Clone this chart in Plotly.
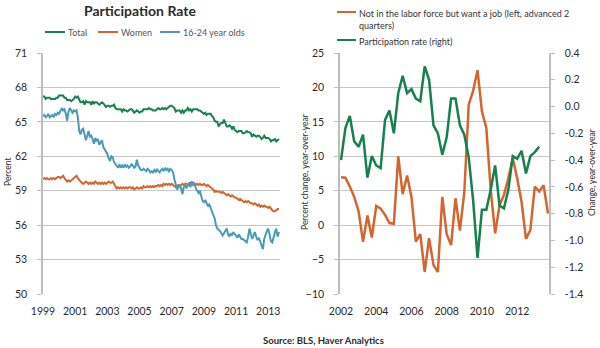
import plotly.graph_objects as go

# ---- Left panel: monthly participation rates (percent), Jan 1999 onward ----
total = [
    67.2, 67.2, 67.0, 67.1, 67.1, 67.1, 67.0, 67.0, 67.0, 67.0, 67.1, 67.1,
    67.3, 67.3, 67.3, 67.3, 67.1, 67.1, 66.9, 66.9, 66.9, 66.8, 66.9, 67.0,
    67.2, 67.1, 67.2, 66.9, 66.7, 66.7, 66.8, 66.5, 66.8, 66.7, 66.7, 66.7,
    66.5, 66.8, 66.6, 66.7, 66.7, 66.6, 66.5, 66.6, 66.7, 66.6, 66.4, 66.3,
    66.4, 66.4, 66.3, 66.4, 66.4, 66.5, 66.2, 66.1, 66.1, 66.1, 66.1, 65.9,
    66.1, 66.0, 66.0, 65.9, 66.0, 66.1, 66.1, 66.0, 65.8, 65.9, 66.0, 65.9,
    65.8, 65.9, 65.9, 66.1, 66.1, 66.1, 66.1, 66.2, 66.1, 66.1, 66.0, 66.0,
    66.0, 66.1, 66.2, 66.1, 66.1, 66.2, 66.1, 66.2, 66.1, 66.2, 66.3, 66.4,
    66.4, 66.3, 66.2, 65.9, 66.0, 66.0, 66.0, 65.8, 66.0, 65.8, 66.0, 66.0,
    66.2, 66.0, 66.1, 65.9, 66.1, 66.1, 66.1, 66.1, 66.0, 66.0, 65.9, 65.8,
    65.7, 65.8, 65.6, 65.7, 65.7, 65.7, 65.5, 65.4, 65.1, 65.0, 65.0, 64.6,
    64.8, 64.9, 64.9, 65.2, 64.9, 64.6, 64.6, 64.7, 64.6, 64.4, 64.6, 64.3,
    64.2, 64.1, 64.2, 64.2, 64.2, 64.0, 64.0, 64.1, 64.2, 64.1, 64.1, 64.0,
    63.7, 63.9, 63.8, 63.7, 63.8, 63.8, 63.7, 63.5, 63.6, 63.8, 63.6, 63.6,
    63.6, 63.5, 63.3, 63.4, 63.4, 63.5, 63.3, 63.4, 63.5,
]

women = [
    60.0, 60.1, 60.0, 60.1, 60.0, 60.0, 60.1, 60.0, 60.1, 60.0, 60.1, 60.2,
    60.2, 60.1, 60.2, 60.3, 60.1, 59.9, 59.8, 59.9, 59.8, 59.9, 60.0, 60.1,
    60.2, 60.3, 60.1, 59.9, 59.8, 59.7, 59.6, 59.7, 59.8, 59.7, 59.6, 59.7,
    59.6, 59.7, 59.6, 59.8, 59.7, 59.6, 59.7, 59.6, 59.7, 59.6, 59.7, 59.6,
    59.7, 59.8, 59.7, 59.7, 59.8, 59.6, 59.5, 59.2, 59.3, 59.2, 59.3, 59.2,
    59.3, 59.2, 59.3, 59.2, 59.3, 59.3, 59.2, 59.3, 59.1, 59.2, 59.3, 59.2,
    59.2, 59.3, 59.2, 59.4, 59.3, 59.3, 59.4, 59.3, 59.4, 59.3, 59.4, 59.3,
    59.4, 59.4, 59.5, 59.4, 59.5, 59.4, 59.6, 59.5, 59.6, 59.5, 59.6, 59.5,
    59.6, 59.5, 59.4, 59.3, 59.4, 59.5, 59.4, 59.5, 59.6, 59.5, 59.6, 59.6,
    59.5, 59.6, 59.7, 59.6, 59.7, 59.6, 59.5, 59.6, 59.5, 59.6, 59.5, 59.5,
    59.6, 59.5, 59.4, 59.5, 59.4, 59.3, 59.2, 59.1, 58.9, 59.0, 58.9, 58.9,
    58.9, 58.8, 58.9, 58.8, 58.7, 58.6, 58.7, 58.6, 58.5, 58.6, 58.5, 58.4,
    58.4, 58.3, 58.2, 58.3, 58.2, 58.1, 58.0, 58.1, 58.0, 58.1, 58.0, 57.9,
    57.9, 57.8, 57.9, 57.8, 57.7, 57.8, 57.6, 57.7, 57.6, 57.7, 57.6, 57.6,
    57.5, 57.6, 57.4, 57.3, 57.2, 57.2, 57.3, 57.4, 57.4,
]

youth = [
    65.5, 65.6, 65.4, 65.5, 65.7, 65.4, 65.5, 65.6, 65.4, 65.7, 65.6, 65.8,
    65.7, 65.9, 66.2, 66.0, 66.1, 65.7, 65.1, 65.9, 66.2, 66.0, 65.8, 66.0,
    65.9, 66.0, 65.4, 64.2, 63.9, 64.3, 64.4, 63.9, 63.4, 63.8, 64.2, 63.7,
    63.8, 63.5, 63.1, 63.6, 63.3, 63.5, 63.0, 63.2, 63.4, 62.8, 62.6, 62.4,
    62.2, 61.8, 61.6, 62.0, 61.9, 61.5, 61.3, 61.2, 61.0, 61.3, 61.0, 61.2,
    61.0, 61.3, 61.1, 61.2, 61.0, 61.1, 61.3, 61.2, 61.0, 61.1, 61.7, 61.2,
    61.0, 60.8, 60.8, 60.9, 60.8, 60.7, 60.9, 60.8, 60.6, 60.7, 60.6, 60.8,
    60.6, 60.9, 60.7, 60.6, 60.8, 60.9, 60.7, 61.0, 60.8, 60.9, 60.7, 60.9,
    60.8, 60.6, 60.0, 59.6, 59.1, 59.3, 59.5, 59.2, 58.7, 59.3, 59.5, 59.2,
    59.4, 59.7, 59.3, 59.8, 59.5, 59.6, 59.2, 59.0, 58.8, 59.0, 58.6, 58.1,
    58.0, 58.2, 57.9, 57.7, 57.8, 57.4, 57.2, 56.9, 56.6, 56.0, 55.7, 55.6,
    55.5, 55.3, 55.1, 55.3, 55.5, 55.7, 55.2, 55.0, 55.3, 55.1, 55.4, 55.2,
    55.0, 54.9, 55.2, 55.0, 54.8, 54.8, 54.7, 54.6, 54.5, 55.0, 55.7, 55.2,
    54.8, 55.1, 55.4, 55.0, 54.7, 54.9, 54.6, 54.3, 53.9, 54.8, 55.2, 55.5,
    55.7, 55.2, 54.6, 54.5, 55.1, 55.4, 55.7, 55.0, 55.4,
]

# ---- Right panel: quarterly series from 2002 Q1 ----
# Not in the labor force but want a job, % change y/y (advanced 2 quarters)
want_job = [
    6.95, 6.9, 5.6, 4.1, 2.0, -2.4, 1.4, -1.8, 2.8, 2.4, 1.5, 0.3,
    0.2, 10.0, 4.5, 7.2, 4.1, -2.4, -1.3, -6.8, -1.9, -5.8, -6.8, 4.1,
    -1.3, -2.9, 3.9, -0.8, 4.8, 17.5, 19.5, 22.5, 16.5, 14.1, 5.1, -1.2,
    2.9, 4.4, 6.8, 9.7, 6.8, 3.4, -2.0, -0.7, 5.6, 4.9, 5.8, 1.7,
]
# Participation rate, change y/y (percentage points)
part_change = [
    -0.40, -0.16, -0.07, -0.26, -0.30, -0.21, -0.53, -0.37, -0.44, -0.46, -0.10, -0.03,
    -0.20, 0.10, 0.23, 0.10, 0.13, 0.06, 0.04, 0.30, 0.20, -0.14, -0.20, -0.36,
    -0.23, 0.06, 0.06, -0.14, -0.21, -0.38, -0.70, -1.13, -0.77, -0.77, -0.62, -0.44,
    -0.74, -0.76, -0.62, -0.37, -0.39, -0.33, -0.50, -0.37, -0.34, -0.30,
]

left_year_labels = ["1999", "2001", "2003", "2005", "2007", "2009", "2011", "2013"]
right_year_labels = ["2002", "2004", "2006", "2008", "2010", "2012"]
rate_ticks = [50, 53, 56, 59, 62, 65, 68, 71]
pct_ticks = [-10, -5, 0, 5, 10, 15, 20, 25]
chg_ticks = [-1.4, -1.2, -1.0, -0.8, -0.6, -0.4, -0.2, 0.0, 0.2, 0.4]
chg_labels = ["-1.4", "-1.2", "-1.0", "-0.8", "-0.6", "-0.4", "-0.2", "0.0", "0.2", "0.4"]

GREEN = "#17804f"
ORANGE = "#d4652f"
BLUE = "#4b9bb6"
GRID = "#c6c6c6"
AXIS = "#bdbdbd"
TXT = "#2b2b2b"
FONT = "Lato, 'Open Sans', sans-serif"

W, H = 600, 348


def px(x):
    return x / W


def py(y):
    return 1 - y / H


months = [1999 + i / 12 for i in range(len(total))]
q_want = [2002 + i / 4 for i in range(len(want_job))]
q_part = [2002 + i / 4 for i in range(len(part_change))]

fig = go.Figure()
fig.add_trace(go.Scatter(x=months, y=total, mode="lines", name="Total",
                         line=dict(color=GREEN, width=2), xaxis="x", yaxis="y"))
fig.add_trace(go.Scatter(x=months, y=women, mode="lines", name="Women",
                         line=dict(color=ORANGE, width=2), xaxis="x", yaxis="y"))
fig.add_trace(go.Scatter(x=months, y=youth, mode="lines", name="16-24 year olds",
                         line=dict(color=BLUE, width=2), xaxis="x", yaxis="y"))
fig.add_trace(go.Scatter(x=q_want, y=want_job, mode="lines",
                         name="Not in the labor force but want a job",
                         line=dict(color=ORANGE, width=2.5), xaxis="x2", yaxis="y2"))
fig.add_trace(go.Scatter(x=q_part, y=part_change, mode="lines",
                         name="Participation rate",
                         line=dict(color=GREEN, width=2.5), xaxis="x2", yaxis="y3"))

ydom = [py(294), py(53)]
tickfont = dict(family=FONT, size=10.5, color=TXT)

fig.update_layout(
    width=W, height=H,
    margin=dict(l=0, r=0, t=0, b=0, autoexpand=False),
    paper_bgcolor="white", plot_bgcolor="white",
    showlegend=False,
    font=dict(family=FONT, color=TXT),
    xaxis=dict(domain=[px(43), px(280)], range=[1999, 2013.73],
               tickvals=[int(v) for v in left_year_labels], ticktext=left_year_labels,
               showgrid=False, zeroline=False, showline=False, ticks="",
               tickfont=tickfont, ticklabelstandoff=9, anchor="y", automargin=False),
    yaxis=dict(domain=ydom, range=[50, 71], tickvals=rate_ticks,
               showgrid=True, gridcolor=GRID, gridwidth=1, zeroline=False,
               showline=True, linecolor=AXIS, linewidth=1.5,
               ticks="outside", ticklen=4, tickcolor=AXIS,
               tickfont=tickfont, ticklabelstandoff=8, anchor="x", automargin=False),
    xaxis2=dict(domain=[px(340), px(549)], range=[2001.943, 2013.807],
                tickvals=[int(v) for v in right_year_labels], ticktext=right_year_labels,
                showgrid=False, zeroline=False, showline=False, ticks="",
                tickfont=tickfont, ticklabelstandoff=9, anchor="y2", automargin=False),
    yaxis2=dict(domain=ydom, range=[-10, 25], tickvals=pct_ticks,
                showgrid=True, gridcolor=GRID, gridwidth=1, zeroline=False,
                showline=True, linecolor=AXIS, linewidth=1.5,
                ticks="outside", ticklen=4, tickcolor=AXIS,
                tickfont=tickfont, ticklabelstandoff=8, anchor="x2", automargin=False),
    yaxis3=dict(range=[-1.4, 0.4], tickvals=chg_ticks, ticktext=chg_labels,
                overlaying="y2", side="right", anchor="x2",
                showgrid=False, zeroline=False,
                showline=True, linecolor=AXIS, linewidth=1.5,
                ticks="outside", ticklen=4, tickcolor=AXIS,
                tickfont=tickfont, ticklabelstandoff=8, automargin=False),
)

shapes = []
annotations = []

# Left-panel title and legend
annotations.append(dict(text="<b>Participation Rate</b>", x=px(140), y=py(10),
                        xref="paper", yref="paper", showarrow=False,
                        xanchor="center", yanchor="middle",
                        font=dict(family=FONT, size=14, color=TXT)))
legend_left = [("Total", GREEN, 45), ("Women", ORANGE, 98), ("16-24 year olds", BLUE, 160)]
for label, color, x0 in legend_left:
    shapes.append(dict(type="line", xref="paper", yref="paper",
                       x0=px(x0), x1=px(x0 + 20), y0=py(32), y1=py(32),
                       line=dict(color=color, width=2)))
    annotations.append(dict(text=label, x=px(x0 + 21), y=py(32), xref="paper", yref="paper",
                            showarrow=False, xanchor="left", yanchor="middle",
                            font=dict(family=FONT, size=9, color="#555555")))

# Right-panel legend
legend_right = [
    ("Not in the labor force but want a job (left, advanced 2<br>quarters)", ORANGE, 12, 6),
    ("Participation rate (right)", GREEN, 40, 34),
]
for label, color, yline, ytop in legend_right:
    shapes.append(dict(type="line", xref="paper", yref="paper",
                       x0=px(337), x1=px(356), y0=py(yline), y1=py(yline),
                       line=dict(color=color, width=2)))
    annotations.append(dict(text=label, x=px(357), y=py(ytop), xref="paper", yref="paper",
                            showarrow=False, xanchor="left", yanchor="top", align="left",
                            font=dict(family=FONT, size=9, color="#333333")))

# Axis titles (rotated, centred on their x position)
axis_titles = [("Percent", 8), ("Percent change, year-over-year", 305),
               ("Change, year-over-year", 592)]
for label, xc in axis_titles:
    annotations.append(dict(text=label, x=px(xc), y=py(172), xref="paper", yref="paper",
                            showarrow=False, textangle=-90,
                            xanchor="center", yanchor="middle",
                            font=dict(family=FONT, size=8.5, color=TXT)))

# Source line
annotations.append(dict(text="<b>Source: BLS, Haver Analytics</b>", x=px(323), y=py(340),
                        xref="paper", yref="paper", showarrow=False,
                        xanchor="center", yanchor="middle",
                        font=dict(family=FONT, size=9.5, color=TXT)))

fig.update_layout(shapes=shapes, annotations=annotations)

fig.write_html("out.html")
